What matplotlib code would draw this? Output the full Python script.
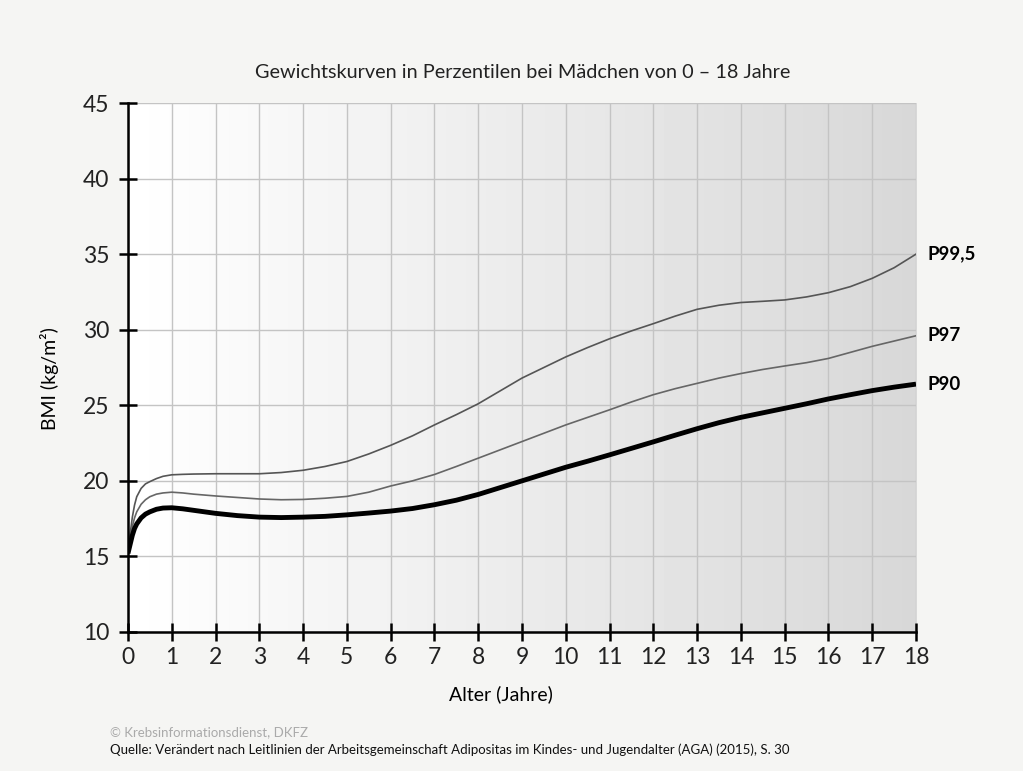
import matplotlib.pyplot as plt
import numpy as np

plt.rcParams['font.family'] = ['Lato', 'DejaVu Sans']

# Alter in Jahren
alter = [0, 0.05, 0.1, 0.15, 0.2, 0.3, 0.4, 0.5, 0.65, 0.8, 1, 1.25, 1.5, 2,
         2.5, 3, 3.5, 4, 4.5, 5, 5.5, 6, 6.5, 7, 7.5, 8, 8.5, 9, 9.5, 10, 10.5,
         11, 11.5, 12, 12.5, 13, 13.5, 14, 14.5, 15, 15.5, 16, 16.5, 17, 17.5,
         18]

# BMI-Perzentile
p90 = [15.2, 15.8, 16.4, 16.85, 17.15, 17.55, 17.8, 17.95, 18.12, 18.2, 18.22,
       18.15, 18.05, 17.85, 17.7, 17.6, 17.57, 17.6, 17.65, 17.75, 17.87, 18.0,
       18.17, 18.42, 18.72, 19.1, 19.55, 20.0, 20.45, 20.9, 21.3, 21.72, 22.15,
       22.58, 23.02, 23.45, 23.85, 24.2, 24.5, 24.8, 25.1, 25.42, 25.7, 25.97,
       26.2, 26.4]
p97 = [15.3, 16.2, 17.0, 17.55, 17.95, 18.45, 18.75, 18.95, 19.12, 19.2, 19.25,
       19.2, 19.12, 19.0, 18.9, 18.8, 18.75, 18.77, 18.85, 18.97, 19.25, 19.66,
       20.0, 20.42, 20.95, 21.5, 22.05, 22.6, 23.15, 23.7, 24.2, 24.7, 25.22,
       25.7, 26.1, 26.45, 26.8, 27.1, 27.37, 27.6, 27.82, 28.1, 28.5, 28.9,
       29.25, 29.6]
p995 = [15.3, 16.5, 17.6, 18.4, 18.95, 19.5, 19.8, 19.95, 20.15, 20.3, 20.4,
        20.43, 20.45, 20.47, 20.47, 20.47, 20.55, 20.7, 20.95, 21.28, 21.78,
        22.35, 22.98, 23.7, 24.38, 25.1, 25.95, 26.8, 27.5, 28.2, 28.82, 29.4,
        29.92, 30.4, 30.9, 31.35, 31.62, 31.8, 31.88, 31.97, 32.17, 32.45,
        32.85, 33.4, 34.1, 35.0]

fig = plt.figure(figsize=(10.23, 7.71), dpi=100)
fig.patch.set_facecolor('#f5f5f3')
ax = fig.add_axes([0.1251, 0.1803, 0.7703, 0.6861])

# Hintergrundverlauf weiss -> grau
grad = np.linspace(1.0, 0.845, 256).reshape(1, -1)
ax.imshow(grad, cmap='gray', vmin=0, vmax=1, aspect='auto',
          extent=[0, 18, 10, 45], zorder=0, interpolation='bicubic')

ax.set_xlim(0, 18)
ax.set_ylim(10, 45)
ax.set_xticks(range(0, 19))
ax.set_yticks(range(10, 46, 5))
ax.grid(True, color='#c4c4c4', linewidth=1.0, zorder=1)
ax.set_axisbelow(False)

ax.plot(alter, p995, color='#555555', linewidth=1.2, zorder=3)
ax.plot(alter, p97, color='#666666', linewidth=1.2, zorder=3)
ax.plot(alter, p90, color='black', linewidth=3.5, zorder=4,
        solid_capstyle='butt', solid_joinstyle='round')

for name, vals in [('P99,5', p995), ('P97', p97), ('P90', p90)]:
    ax.annotate(name, xy=(18, vals[-1]), xytext=(8, 0),
                textcoords='offset points', va='center', ha='left',
                fontsize=13.5, fontweight='bold', annotation_clip=False)

for s in ['top', 'right']:
    ax.spines[s].set_visible(False)
for s in ['left', 'bottom']:
    ax.spines[s].set_linewidth(1.8)
    ax.spines[s].set_zorder(5)
ax.tick_params(direction='inout', length=13, width=1.8, labelsize=16.5,
               colors='black', pad=4)
ax.tick_params(axis='y', pad=7)
for lab in ax.get_xticklabels() + ax.get_yticklabels():
    lab.set_color('#222222')

ax.set_xlabel('Alter (Jahre)', fontsize=14)
ax.xaxis.set_label_coords(0.473, -0.100)
ax.set_ylabel('BMI (kg/m²)', fontsize=14)
ax.yaxis.set_label_coords(-0.087, 0.48)

fig.text(0.511, 0.906, 'Gewichtskurven in Perzentilen bei Mädchen von 0 – 18 Jahre',
         ha='center', va='center', fontsize=14.3, color='#222222')
fig.text(0.108, 0.051, '© Krebsinformationsdienst, DKFZ', ha='left',
         va='center', fontsize=9.5, color='#aaaaaa')
fig.text(0.108, 0.028, 'Quelle: Verändert nach Leitlinien der Arbeitsgemeinschaft '
         'Adipositas im Kindes- und Jugendalter (AGA) (2015), S. 30',
         ha='left', va='center', fontsize=9.5, color='#111111')

fig.savefig('out.png', dpi=100, facecolor=fig.get_facecolor())
